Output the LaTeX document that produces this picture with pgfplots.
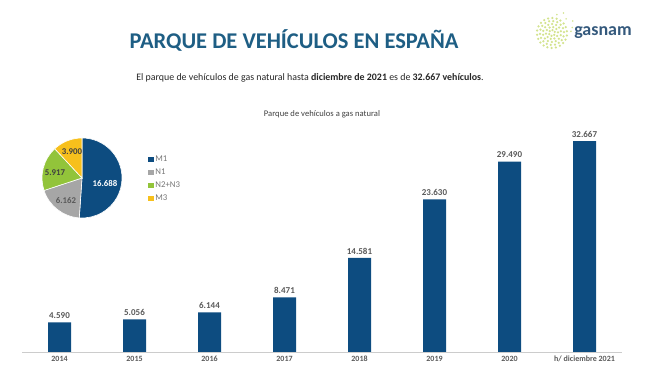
\documentclass[border=0pt]{standalone}
\usepackage{pgfplots}
\pgfplotsset{compat=1.18}
\usepackage{fontspec}
\setmainfont{Carlito}
\definecolor{barblue}{HTML}{0D4C80}
\definecolor{titleblue}{HTML}{1E5E84}
\definecolor{pgray}{HTML}{A6A6A6}
\definecolor{pgreen}{HTML}{92C43A}
\definecolor{pyellow}{HTML}{F7C01C}
\definecolor{txtgray}{HTML}{595959}
\definecolor{legendgray}{HTML}{767676}
\definecolor{logoblue}{HTML}{34597C}
\definecolor{logogreen}{HTML}{D3E38E}

\begin{document}
\begin{tikzpicture}[x=1pt,y=1pt]
\useasboundingbox (0pt,0pt) rectangle (650pt,371pt);

% headings
\node[font=\fontsize{22.5}{26}\selectfont\bfseries, text=titleblue] at (294pt,331pt) {PARQUE DE VEHÍCULOS EN ESPAÑA};
\node[font=\fontsize{9.9}{12}\selectfont, text=black!85] at (310pt,293pt)
  {El parque de vehículos de gas natural hasta \textbf{diciembre de 2021} es de \textbf{32.667 vehículos}.};
\node[font=\fontsize{8.6}{10}\selectfont, text=black!75] at (322pt,257pt) {Parque de vehículos a gas natural};

% logo: dandelion head made of seeds, then the word mark
\foreach \r/\n in {3/6,6/10,9/14,12/18,15/22}{
  \foreach \k in {1,...,\n}{
    \fill[logogreen] (552pt,338pt) ++({360*\k/\n+7*\r}:\r pt) circle (1.25pt);
  }
}
\foreach \a/\r in {15/21,30/24,45/20,60/23,75/19,5/19}{
  \fill[logogreen] (552pt,338pt) ++(\a:\r pt) circle (0.9pt);
}
\node[font=\fontsize{18}{20}\selectfont\bfseries, text=logoblue] at (603pt,338pt) {gasnam};

% yearly totals
\begin{axis}[
  at={(22pt,19pt)}, anchor=south west, scale only axis,
  width=600pt, height=232pt,
  xmin=-0.5, xmax=7.5, ymin=0, ymax=35920,
  axis x line=bottom, axis y line=none,
  x axis line style={draw=black!20, line width=0.6pt, -},
  xtick=data,
  xticklabels={2014,2015,2016,2017,2018,2019,2020,h/ diciembre 2021},
  major tick length=0pt,
  xticklabel style={font=\fontsize{8}{9}\selectfont\bfseries, text=txtgray,
    text height=6pt, text depth=1.5pt},
  ybar, bar width=23pt,
  nodes near coords,
  every node near coord/.append style={font=\fontsize{9}{10}\selectfont\bfseries, text=txtgray, yshift=0pt},
  /pgf/number format/.cd, 1000 sep={.}, assume math mode=true,
]
\addplot[fill=barblue, draw=none] coordinates {
  (0,4590) (1,5056) (2,6144) (3,8471) (4,14581) (5,23630) (6,29490) (7,32667)};
\end{axis}

% composition by category (shares in thousands of vehicles)
\pgfmathsetmacro{\tot}{16.688+6.162+5.917+3.900}
\pgfmathsetmacro{\angA}{90}
\pgfmathsetmacro{\angB}{\angA-360*16.688/\tot}
\pgfmathsetmacro{\angC}{\angB-360*6.162/\tot}
\pgfmathsetmacro{\angD}{\angC-360*5.917/\tot}
\pgfmathsetmacro{\angE}{\angD-360*3.900/\tot}
\begin{axis}[
  at={(42pt,153pt)}, anchor=south west, scale only axis,
  width=80pt, height=80pt,
  xmin=-1, xmax=1, ymin=-1, ymax=1, hide axis,
  legend style={at={(1.29,0.83)}, anchor=north west, draw=none, fill=none,
    font=\fontsize{8.8}{9}\selectfont, text=legendgray, row sep=1.8pt},
  legend cell align=left,
  legend image code/.code={\fill[#1] (0pt,-2.3pt) rectangle (4.6pt,2.3pt);},
]
\addlegendimage{barblue}
\addlegendentry{M1}
\addlegendimage{pgray}
\addlegendentry{N1}
\addlegendimage{pgreen}
\addlegendentry{N2+N3}
\addlegendimage{pyellow}
\addlegendentry{M3}
\filldraw[fill=barblue, draw=white, line width=0.6pt] (axis cs:0,0) -- ++(\angA:40pt) arc[start angle=\angA, end angle=\angB, radius=40pt] -- cycle;
\filldraw[fill=pgray, draw=white, line width=0.6pt] (axis cs:0,0) -- ++(\angB:40pt) arc[start angle=\angB, end angle=\angC, radius=40pt] -- cycle;
\filldraw[fill=pgreen, draw=white, line width=0.6pt] (axis cs:0,0) -- ++(\angC:40pt) arc[start angle=\angC, end angle=\angD, radius=40pt] -- cycle;
\filldraw[fill=pyellow, draw=white, line width=0.6pt] (axis cs:0,0) -- ++(\angD:40pt) arc[start angle=\angD, end angle=\angE, radius=40pt] -- cycle;
\node[font=\fontsize{8.8}{9}\selectfont\bfseries, text=white] at (axis cs:0.575,-0.125) {16.688};
\node[font=\fontsize{8.8}{9}\selectfont\bfseries, text=black!65] at (axis cs:-0.4,-0.575) {6.162};
\node[font=\fontsize{8.8}{9}\selectfont\bfseries, text=black!75] at (axis cs:-0.675,0.125) {5.917};
\node[font=\fontsize{8.8}{9}\selectfont\bfseries, text=black!75] at (axis cs:-0.25,0.65) {3.900};
\end{axis}
\end{tikzpicture}
\end{document}
